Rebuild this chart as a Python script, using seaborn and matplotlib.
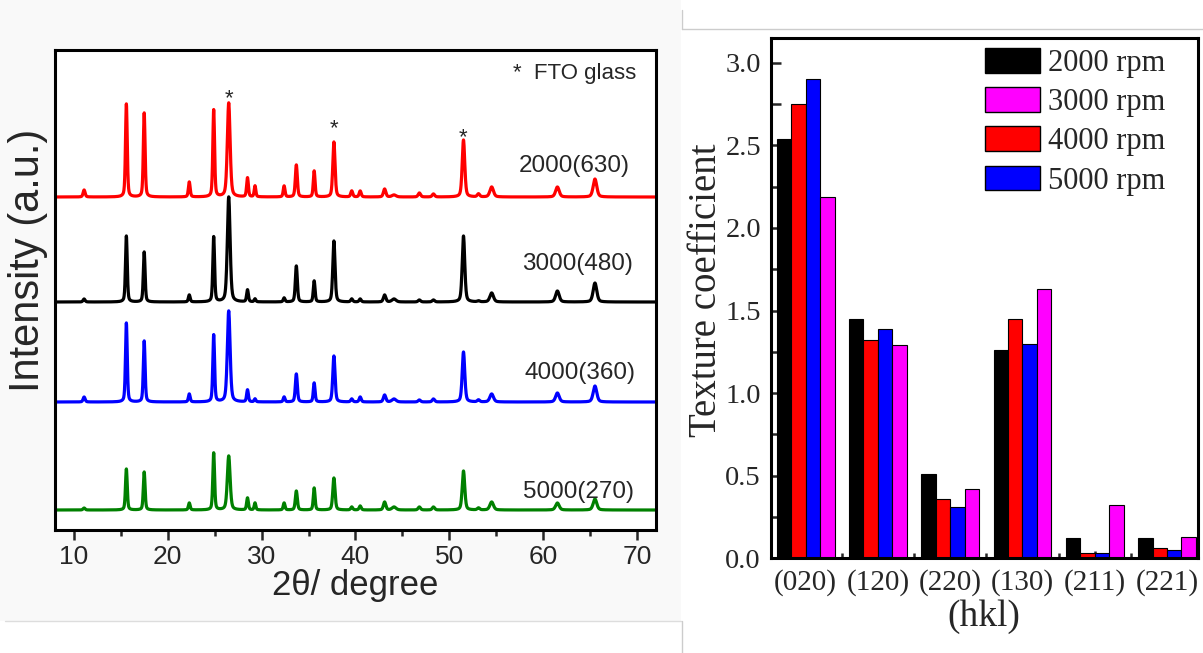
import numpy as np
import pandas as pd
import matplotlib
matplotlib.use("Agg")
import matplotlib.pyplot as plt
from matplotlib.ticker import MultipleLocator, FixedLocator
from matplotlib.patches import Patch, Rectangle
from matplotlib.lines import Line2D
import seaborn as sns

# ---------------- data: XRD patterns (left panel) ----------------
samples = ["2000(630)", "3000(480)", "4000(360)", "5000(270)"]
sample_colors = ["#ff0000", "#000000", "#0000ff", "#008000"]
baseline_offsets = [333, 228, 128, 20]

peak_positions = [11.1, 15.6, 17.5, 22.3, 24.9, 26.5, 28.5, 29.3, 32.4, 33.7,
                  35.6, 37.7, 39.6, 40.5, 43.1, 44.1, 46.8, 48.3, 51.5, 53.1,
                  54.5, 61.5, 65.5]
peak_fwhm = [0.25, 0.22, 0.22, 0.22, 0.22, 0.35, 0.22, 0.2, 0.22, 0.25,
             0.22, 0.28, 0.25, 0.25, 0.3, 0.5, 0.3, 0.3, 0.32, 0.3,
             0.45, 0.45, 0.45]
heights_2000 = [7, 93, 84, 15, 87, 94, 19, 11, 11, 32, 26, 55, 6, 6, 8, 2, 4, 3, 57, 3, 10, 10, 18]
heights_3000 = [3, 66, 50, 7, 65, 105, 12, 3, 4, 36, 21, 61, 3, 3, 7, 3, 2, 2, 66, 1, 9, 11, 19]
heights_4000 = [5, 79, 61, 8, 67, 91, 12, 3, 5, 28, 19, 46, 3, 5, 7, 3, 2, 3, 50, 2, 8, 9, 16]
heights_5000 = [2, 41, 38, 7, 57, 54, 12, 7, 7, 19, 22, 32, 3, 4, 8, 3, 3, 3, 39, 2, 8, 7, 11]
fto_peaks = [26.5, 37.7, 51.5]

# ---------------- data: texture coefficients (right panel) ----------------
hkl = ["(020)", "(120)", "(220)", "(130)", "(211)", "(221)"]
tc_2000 = [2.54, 1.45, 0.51, 1.26, 0.12, 0.12]
tc_3000 = [2.19, 1.29, 0.42, 1.63, 0.32, 0.13]
tc_4000 = [2.75, 1.32, 0.36, 1.45, 0.03, 0.065]
tc_5000 = [2.90, 1.39, 0.31, 1.30, 0.035, 0.05]
speeds = ["2000 rpm", "3000 rpm", "4000 rpm", "5000 rpm"]
speed_colors = {"2000 rpm": "#000000", "3000 rpm": "#ff00ff",
                "4000 rpm": "#ff0000", "5000 rpm": "#0000ff"}
bar_order = ["2000 rpm", "4000 rpm", "5000 rpm", "3000 rpm"]

# ---------------- build profiles from peak list ----------------
two_theta = np.linspace(8, 72, 3201)


def profile(heights, eta=0.4):
    y = np.zeros_like(two_theta)
    for p, w, h in zip(peak_positions, peak_fwhm, heights):
        g = np.exp(-4 * np.log(2) * ((two_theta - p) / w) ** 2)
        l = 1.0 / (1.0 + 4 * ((two_theta - p) / w) ** 2)
        y += h * ((1 - eta) * g + eta * l)
    return y


all_heights = [heights_2000, heights_3000, heights_4000, heights_5000]
frames = []
for s, off, hts in zip(samples, baseline_offsets, all_heights):
    frames.append(pd.DataFrame({"two_theta": two_theta,
                                "intensity": profile(hts) + off,
                                "sample": s}))
df_xrd = pd.concat(frames, ignore_index=True)

rows = []
for sp, vals in zip(speeds, [tc_2000, tc_3000, tc_4000, tc_5000]):
    for h, v in zip(hkl, vals):
        rows.append({"hkl": h, "speed": sp, "tc": v})
df_tc = pd.DataFrame(rows)

# ---------------- figure ----------------
sns.set_style("ticks")
plt.rcParams["font.family"] = ["Liberation Sans", "DejaVu Sans"]
SANS = ["Liberation Sans", "DejaVu Sans"]
SERIF = ["Liberation Serif", "DejaVu Serif"]

fig = plt.figure(figsize=(12.03, 6.53), dpi=100)
fig.patches.append(Rectangle((0, 32 / 653), 681 / 1203, 1 - 32 / 653,
                             transform=fig.transFigure, facecolor="#f9f9f9",
                             edgecolor="none", zorder=-10))
fig.add_artist(Line2D([5 / 1203, 681 / 1203], [32 / 653, 32 / 653],
                      color="#dddddd", lw=1))
fig.add_artist(Line2D([681.5 / 1203, 681.5 / 1203], [0, 32 / 653],
                      color="#cccccc", lw=1))
fig.add_artist(Line2D([681.5 / 1203, 681.5 / 1203], [1 - 29 / 653, 1 - 10 / 653],
                      color="#cccccc", lw=1))
fig.add_artist(Line2D([681.5 / 1203, 1], [1 - 29 / 653, 1 - 29 / 653],
                      color="#cccccc", lw=1))

ax1 = fig.add_axes([55 / 1203, 1 - 530 / 653, 601 / 1203, 480 / 653])
ax2 = fig.add_axes([770.7 / 1203, 1 - 558.3 / 653, 427 / 1203, 520.3 / 653])
for ax in (ax1, ax2):
    ax.set_facecolor("white")
    for sp in ax.spines.values():
        sp.set_linewidth(2.2)
        sp.set_color("black")

# ---- left panel ----
sns.lineplot(data=df_xrd, x="two_theta", y="intensity", hue="sample",
             hue_order=samples, palette=dict(zip(samples, sample_colors)),
             linewidth=2.3, legend=False, estimator=None, sort=False, ax=ax1)
ax1.set_xlim(8, 72)
ax1.set_ylim(0, 480)
ax1.set_yticks([])
ax1.xaxis.set_major_locator(MultipleLocator(10))
ax1.xaxis.set_minor_locator(MultipleLocator(5))
ax1.tick_params(axis="x", which="major", direction="out", length=7, width=1.8,
                labelsize=19, pad=4)
ax1.tick_params(axis="x", which="minor", direction="out", length=4, width=1.8)
ax1.set_xlabel("2θ/ degree", fontsize=25, labelpad=0, family=SANS)
ax1.set_ylabel("Intensity (a.u.)", fontsize=30, family=SANS)
ax1.yaxis.set_label_coords(-0.012, 0.5625)

label_x = [63.3, 63.6, 63.9, 63.8]
label_y = [364, 266, 157, 38]
for s, lx, ly in zip(samples, label_x, label_y):
    ax1.text(lx, ly, s, ha="center", va="center", fontsize=17.5, family=SANS)
ast_y = [426, 396, 387]
for p, ay in zip(fto_peaks, ast_y):
    ax1.text(p, ay, "*", ha="center", va="baseline", fontsize=16, family=SANS)
ax1.text(69.9, 456, "*  FTO glass", ha="right", va="center", fontsize=16, family=SANS)

# ---- right panel ----
sns.barplot(data=df_tc, x="hkl", y="tc", hue="speed", order=hkl,
            hue_order=bar_order, palette=speed_colors, width=0.8,
            edgecolor="black", linewidth=0.8, saturation=1, errorbar=None,
            legend=False, ax=ax2)
ax2.set_xlim(-0.484, 5.425)
ax2.set_ylim(0, 3.15)
ax2.yaxis.set_major_locator(MultipleLocator(0.5))
ax2.yaxis.set_minor_locator(MultipleLocator(0.25))
ax2.xaxis.set_minor_locator(FixedLocator(np.arange(len(hkl) - 1) + 0.5))
ax2.yaxis.set_major_formatter(matplotlib.ticker.FormatStrFormatter("%.1f"))
ax2.tick_params(axis="y", which="both", direction="in", length=7, width=1.8,
                labelsize=20.5, pad=7, labelfontfamily="Liberation Serif")
ax2.tick_params(axis="x", which="major", direction="in", length=5, width=1.8,
                labelsize=21, pad=8, labelfontfamily="Liberation Serif")
ax2.tick_params(axis="x", which="minor", direction="in", length=3.5, width=1.8)
ax2.set_xlabel("(hkl)", fontsize=27, family=SERIF, labelpad=2)
ax2.set_ylabel("Texture coefficient", fontsize=28, family=SERIF)
ax2.yaxis.set_label_coords(-0.106, 0.516)

handles = [Patch(facecolor=speed_colors[s], edgecolor="black", linewidth=1.0)
           for s in speeds]
ax2.legend(handles, speeds, loc="upper left", bbox_to_anchor=(0.502, 0.981),
           frameon=False, prop={"family": SERIF, "size": 22},
           handlelength=1.8, handleheight=0.88, handletextpad=0.27,
           labelspacing=0.3, borderaxespad=0, borderpad=0)

fig.savefig("out.png", dpi=100)
